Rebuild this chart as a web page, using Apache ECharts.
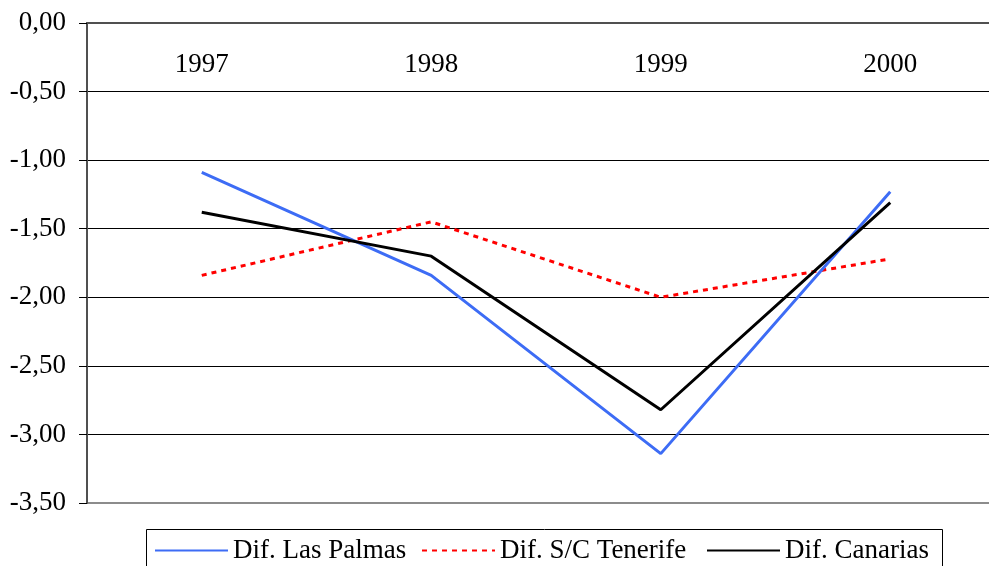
<!DOCTYPE html>
<html>
<head>
<meta charset="utf-8">
<script src="https://cdn.jsdelivr.net/npm/echarts@6/dist/echarts.min.js"></script>
<style>
html,body{margin:0;padding:0;background:#fff;overflow:hidden;width:989px;height:566px;}
#chart{width:1005px;height:566px;}
</style>
</head>
<body>
<div id="chart"></div>
<script>
var categories = ['1997', '1998', '1999', '2000'];
var lasPalmas = [-1.09, -1.84, -3.14, -1.23];
var tenerife = [-1.84, -1.45, -2.00, -1.72];
var canarias = [-1.38, -1.70, -2.82, -1.31];
var seriesNames = ['Dif. Las Palmas', 'Dif. S/C Tenerife', 'Dif. Canarias'];

var FONT = 'Liberation Serif';
var chart = echarts.init(document.getElementById('chart'), null, {renderer: 'canvas'});

function legendAt(left, name) {
  return {
    data: [name],
    left: left,
    top: 537,
    padding: 0,
    itemWidth: 73,
    itemHeight: 14,
    selectedMode: false,
    itemStyle: {color: 'transparent', borderWidth: 0, opacity: 0},
    textStyle: {fontFamily: FONT, fontSize: 27, color: '#000'}
  };
}

chart.setOption({
  animation: false,
  backgroundColor: '#fff',
  grid: {
    left: 87, top: 23, right: 0, bottom: 63,
    show: true, borderColor: '#8c8c8c', borderWidth: 2, backgroundColor: 'transparent'
  },
  xAxis: {
    type: 'category',
    data: categories,
    position: 'top',
    boundaryGap: true,
    axisLine: {show: true, lineStyle: {color: '#505050', width: 2}},
    axisTick: {show: false},
    axisLabel: {inside: true, margin: 28, fontFamily: FONT, fontSize: 27, color: '#000'},
    splitLine: {show: false}
  },
  yAxis: {
    type: 'value',
    min: -3.5, max: 0, interval: 0.5,
    axisLine: {show: true, lineStyle: {color: '#505050', width: 2}},
    axisTick: {show: true, length: 8, lineStyle: {color: '#000', width: 1}},
    axisLabel: {
      margin: 21, fontFamily: FONT, fontSize: 27, color: '#000',
      formatter: function (v) { return (Math.abs(v) < 1e-9 ? 0 : v).toFixed(2).replace('.', ','); }
    },
    splitLine: {show: true, showMinLine: false, showMaxLine: false, lineStyle: {color: '#000', width: 1}}
  },
  legend: [
    legendAt(154, seriesNames[0]),
    legendAt(421, seriesNames[1]),
    legendAt(706, seriesNames[2])
  ],
  graphic: [{
    type: 'rect',
    shape: {x: 146.5, y: 529.5, width: 796, height: 60},
    style: {fill: 'none', stroke: '#000', lineWidth: 1},
    silent: true
  }],
  series: [
    {name: seriesNames[0], type: 'line', data: lasPalmas, symbol: 'none',
     lineStyle: {color: '#3d6cf5', width: 3}, itemStyle: {color: '#3d6cf5'}, z: 3},
    {name: seriesNames[1], type: 'line', data: tenerife, symbol: 'none',
     lineStyle: {color: '#ff0000', width: 3, type: [5, 5]}, itemStyle: {color: '#ff0000'}, z: 2},
    {name: seriesNames[2], type: 'line', data: canarias, symbol: 'none',
     lineStyle: {color: '#000', width: 3}, itemStyle: {color: '#000'}, z: 4}
  ]
});
</script>
</body>
</html>
